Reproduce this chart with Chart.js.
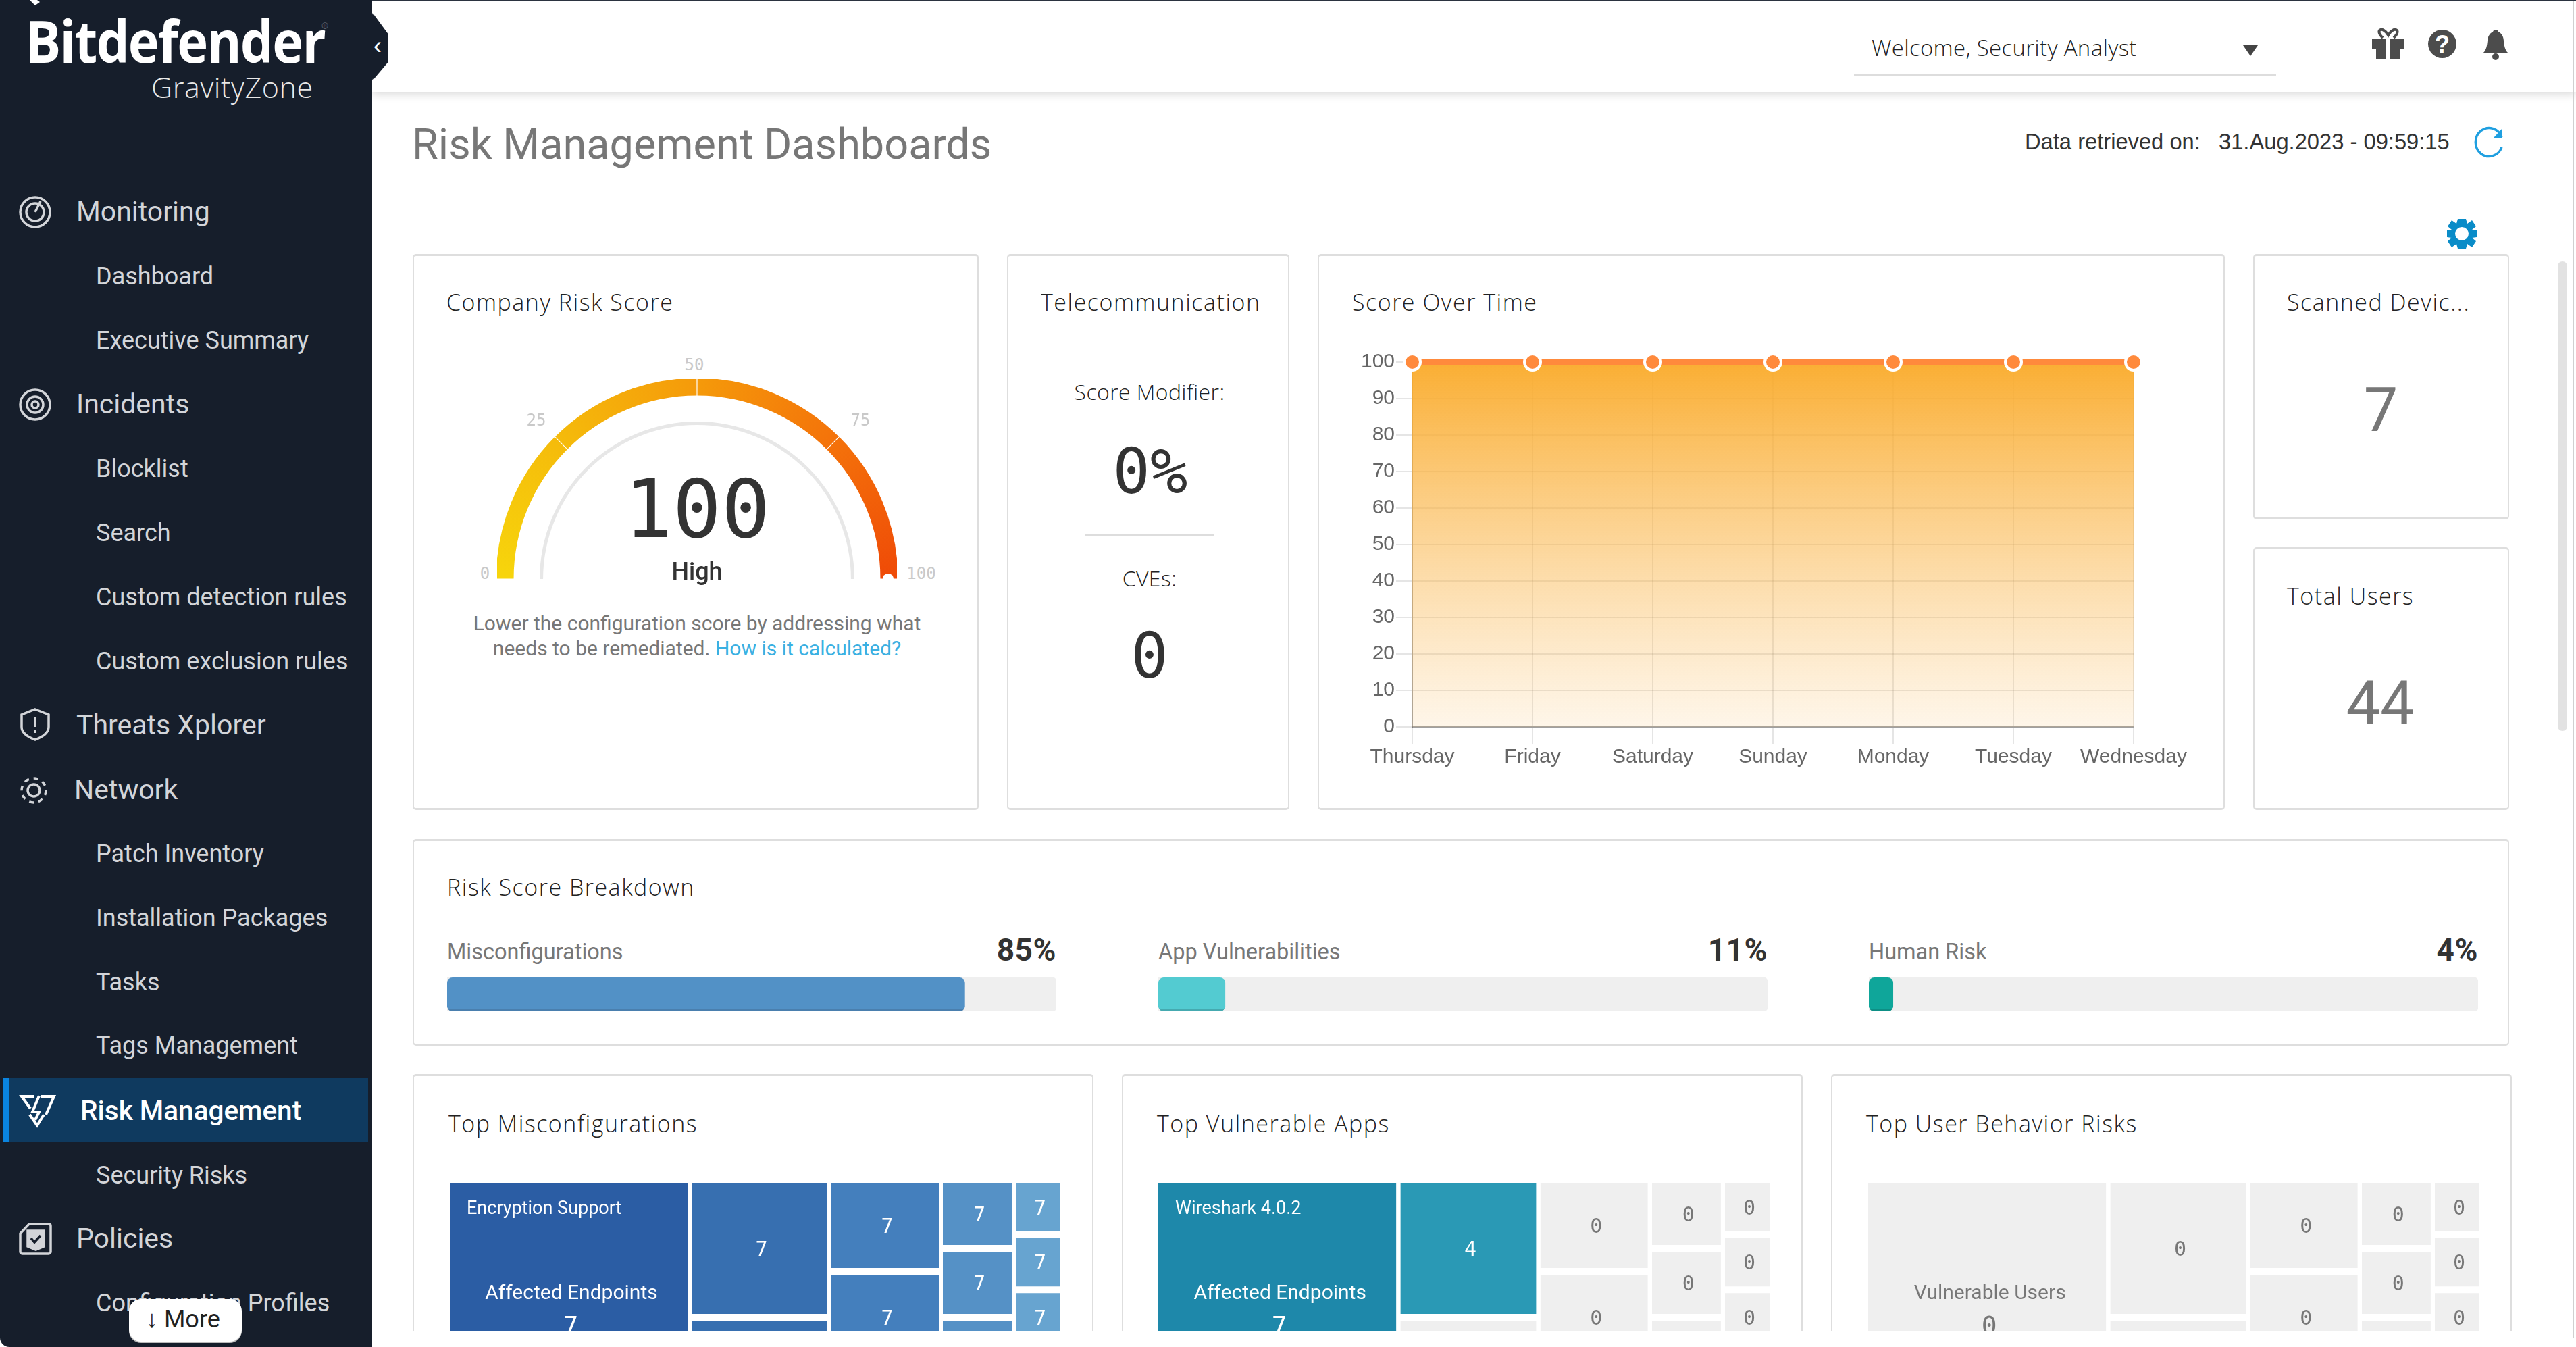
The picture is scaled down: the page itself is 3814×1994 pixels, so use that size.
<!DOCTYPE html>
<html><head><meta charset="utf-8">
<script src="https://cdn.jsdelivr.net/npm/chart.js@4"></script>
<style>
html,body{margin:0;padding:0;width:3814px;height:1994px;overflow:hidden;background:#fff}
#page{position:absolute;left:0;top:0;width:3814px;height:1994px;overflow:hidden;font-family:Roboto,sans-serif}
.t{position:absolute;white-space:nowrap;transform:translateY(calc(-50% + 2px));line-height:1.2}
.c{transform:translate(-50%,calc(-50% + 2px))}
.r{transform:translate(-100%,calc(-50% + 2px))}
.card{position:absolute;box-sizing:border-box;background:#fff;border:2px solid #dedede;border-top-width:3px;border-bottom-width:3px;border-radius:5px;overflow:hidden}
.title{font-family:"Open Sans",sans-serif;font-weight:300;font-size:34px;color:#222;letter-spacing:1.5px}
.mono{font-family:"DejaVu Sans Mono",monospace;color:#333}
canvas{position:absolute;display:block}
#side{position:absolute;left:0;top:0;width:551px;height:1994px;background:#161e2b;color:#d3d5d9;overflow:hidden;border-bottom-left-radius:14px}
#side .top{font-size:41px}
#side .sub{font-size:36px}
#main{position:absolute;left:551px;top:0;width:3263px;height:1971px;overflow:hidden}
#main>*{margin-left:-551px}
#bk{position:absolute;left:0;top:0;width:0;height:0}
#hdr{position:absolute;left:551px;top:0;width:3263px;height:136px;background:#fff;box-shadow:0 4px 12px rgba(0,0,0,.14)}
svg{position:absolute;overflow:visible}
</style></head><body>
<div id="page">
<div id="main">
  <div class="t" style="left:610px;top:212px;font-size:63px;color:#777;font-family:Roboto">Risk Management Dashboards</div>
  <div class="t" style="left:2998px;top:208px;font-size:32.7px;color:#333;font-family:'Liberation Sans'">Data retrieved on:</div>
  <div class="t" style="left:3285px;top:208px;font-size:32.7px;color:#333;font-family:'Liberation Sans'">31.Aug.2023 - 09:59:15</div>
  <svg style="left:0;top:0" width="1" height="1">
    <path d="M3704 203 A20 21 0 1 0 3704 218" fill="none" stroke="#1f9fe0" stroke-width="3.5"/>
    <path d="M3705 190 L3705 204 L3692 204 Z" fill="#1f9fe0"/>
    <g transform="translate(3645,346)" fill="#0a8cc8">
      <path fill-rule="evenodd" d="M-6-22H6L8-15 15-20 21-11 15-6 22-5V5L15 6 21 11 15 20 8 15 6 22H-6L-8 15-15 20-21 11-15 6-22 5V-5L-15-6-21-11-15-20-8-15Z M0-10A10 10 0 1 0 0 10A10 10 0 1 0 0-10Z"/>
    </g>
  </svg>

  <div class="card" style="left:611px;top:376px;width:838px;height:823px"></div>
  <div class="t title" style="left:661px;top:445px">Company Risk Score</div>
  <canvas id="gauge" width="592" height="296" style="left:736px;top:561px"></canvas>
  <div class="t c mono" style="left:1032px;top:752px;font-size:120px">100</div>
  <div class="t c" style="left:1032px;top:845px;font-size:36px;font-weight:500;color:#333">High</div>
  <div class="t c mono gt" style="left:718px;top:847px">0</div>
  <div class="t c mono gt" style="left:794px;top:620px">25</div>
  <div class="t c mono gt" style="left:1028px;top:538px">50</div>
  <div class="t c mono gt" style="left:1274px;top:620px">75</div>
  <div class="t c mono gt" style="left:1364px;top:847px">100</div>
  <div class="t c" style="left:1032px;top:921px;font-size:30px;color:#777">Lower the configuration score by addressing what</div>
  <div class="t c" style="left:1032px;top:958px;font-size:30px;color:#777">needs to be remediated. <span style="color:#3ab0e2">How is it calculated?</span></div>

  <div class="card" style="left:1491px;top:376px;width:418px;height:823px"></div>
  <div style="position:absolute;left:1541px;top:420px;width:322px;height:50px;overflow:hidden"><div class="t title" style="left:0;top:25px">Telecommunication</div></div>
  <div class="t c title" style="left:1702px;top:578px;font-size:32px;letter-spacing:.4px">Score Modifier:</div>
  <div class="t c mono" style="left:1703px;top:697px;font-size:92px">0%</div>
  <div style="position:absolute;left:1606px;top:791px;width:192px;height:2px;background:#ddd"></div>
  <div class="t c title" style="left:1702px;top:854px;font-size:32px;letter-spacing:.4px">CVEs:</div>
  <div class="t c mono" style="left:1702px;top:970px;font-size:92px">0</div>

  <div class="card" style="left:1951px;top:376px;width:1343px;height:823px"></div>
  <div class="t title" style="left:2002px;top:445px">Score Over Time</div>
  <canvas id="score" width="1290" height="650" style="left:1990px;top:500px"></canvas>

  <div class="card" style="left:3336px;top:376px;width:379px;height:393px"></div>
  <div class="t title" style="left:3386px;top:445px">Scanned Devic...</div>
  <div class="t c" style="left:3525px;top:606px;font-size:90px;color:#777">7</div>
  <div class="card" style="left:3336px;top:810px;width:379px;height:389px"></div>
  <div class="t title" style="left:3386px;top:880px">Total Users</div>
  <div class="t c" style="left:3524px;top:1040px;font-size:90px;color:#777">44</div>

  <div class="card" style="left:611px;top:1242px;width:3104px;height:306px"></div>
  <div class="t title" style="left:662px;top:1311px">Risk Score Breakdown</div>
  <div id="bk"></div>

  <div class="card" style="left:611px;top:1590px;width:1008px;height:600px"></div>
  <div class="t title" style="left:664px;top:1661px">Top Misconfigurations</div>
  <canvas id="tm1" width="904" height="398" style="left:666px;top:1751px"></canvas>
  <div class="card" style="left:1661px;top:1590px;width:1008px;height:600px"></div>
  <div class="t title" style="left:1713px;top:1661px">Top Vulnerable Apps</div>
  <canvas id="tm2" width="905" height="398" style="left:1715px;top:1751px"></canvas>
  <div class="card" style="left:2711px;top:1590px;width:1008px;height:600px"></div>
  <div class="t title" style="left:2763px;top:1661px">Top User Behavior Risks</div>
  <canvas id="tm3" width="905" height="398" style="left:2766px;top:1751px"></canvas>
</div>

<div id="hdr">
  <div class="t" style="left:2220px;top:69px;font-family:'Open Sans';font-weight:300;font-size:33px;letter-spacing:.3px;color:#222">Welcome, Security Analyst</div>
  <div style="position:absolute;left:2194px;top:109px;width:625px;height:3px;background:#ddd"></div>
  <svg style="left:-551px;top:0" width="1" height="1" fill="#4c4c4c">
    <path d="M3321 67 H3343 L3332 83 Z" fill="#444"/>
    <path d="M3512 58H3532V87H3518V72H3512Z M3538 58H3560V72H3554V87H3538Z"/>
    <path d="M3528 56C3515 44 3528 38 3536 52C3544 38 3557 44 3544 56" fill="none" stroke="#4c4c4c" stroke-width="4"/>
    <circle cx="3616" cy="65" r="21"/>
    <text x="3616" y="78" font-family="Liberation Sans" font-size="36" font-weight="700" fill="#fff" text-anchor="middle">?</text>
    <path d="M3676 79C3684 72 3682 60 3684 55C3686 49 3691 47 3691 47C3692 43 3698 43 3699 47C3699 47 3704 49 3706 55C3708 60 3706 72 3714 79Z"/>
    <circle cx="3695" cy="84" r="5"/>
  </svg>
</div>

<div style="position:absolute;left:3787px;top:136px;width:1px;height:1830px;background:#eee"></div>
<div style="position:absolute;left:3787px;top:387px;width:14px;height:695px;border-radius:7px;background:#e2e2e2"></div>
<div style="position:absolute;left:3809px;top:0;width:2px;height:1980px;background:#d0d0d0"></div>
<div style="position:absolute;left:0;top:0;width:3814px;height:2px;background:#2b3340"></div>

<div id="side">
  <svg style="left:0;top:0" width="1" height="1"><path d="M44 0L52 8 59 3 55 0Z" fill="#fff"/></svg>
  <div class="t" style="left:38px;top:60px;font-family:'Open Sans';font-weight:700;font-size:86px;letter-spacing:-2px;color:#fff;transform-origin:0 50%;transform:translateY(-50%) scaleX(.905)">Bitdefender</div>
  <div class="t" style="left:224px;top:127px;font-family:'Open Sans';font-weight:300;font-size:43px;letter-spacing:.6px;color:#e8e8e8">GravityZone</div>
  <div style="position:absolute;left:481px;top:38px;font-size:13px;line-height:13px;color:#5a616c;transform:translate(-50%,-50%)">®</div>
  <div id="nav"></div>
  <div style="position:absolute;left:5px;top:1596px;width:540px;height:95px;background:#0f3a5f;border-left:8px solid #0a84e0;box-sizing:border-box"></div>
  <div class="t" style="left:119px;top:1642px;font-size:40.5px;color:#fff;font-weight:500">Risk Management</div>
  <svg style="left:0;top:0" width="1" height="1" fill="none" stroke="#d3d5d9" stroke-width="3.5">
    <circle cx="52" cy="314" r="22"/><circle cx="52" cy="314" r="13"/><path d="M52 314L60 298" />
    <circle cx="52" cy="599" r="22"/><circle cx="52" cy="599" r="12"/><circle cx="52" cy="599" r="5"/>
    <path d="M52 1050L72 1058V1076C72 1086 60 1092 52 1095C44 1092 32 1086 32 1076V1058Z"/><path d="M52 1062V1076M52 1081V1085"/>
    <circle cx="50" cy="1170" r="9"/><circle cx="50" cy="1170" r="18" stroke-dasharray="7 7"/>
    <path d="M45 1641L32 1623H50M60 1623H80L68 1650M44 1650L55 1666 65 1650" stroke="#fff" stroke-width="4"/>
    <path d="M58 1622L48 1646H58L52 1658" stroke="#fff" stroke-width="4"/>
    <path d="M43 1812H73A3 3 0 0 1 75 1815V1853A3 3 0 0 1 72 1856H33A3 3 0 0 1 30 1853V1826Z"/>
    <path d="M41 1822H65V1845L53 1850 41 1845Z" fill="#d3d5d9"/><path d="M46 1833L51 1839 60 1829" stroke="#161e2b"/>
  </svg>
  <div style="position:absolute;left:191px;top:1923px;width:167px;height:63px;background:#fff;border-radius:18px;box-shadow:0 2px 0 #bbb"></div>
  <div class="t" style="left:216px;top:1952px;font-size:36px;color:#222">↓ More</div>
</div>
<div style="position:absolute;left:551px;top:18px;width:24px;height:102px;background:#161e2b;clip-path:polygon(0 0,100% 32%,100% 72%,0 100%);border-radius:4px"></div>
<div class="t c" style="left:559px;top:66px;font-size:36px;font-family:'Liberation Sans';color:#fff">‹</div>
</div>

<script>
// ---- data ----
const navTop = [["Monitoring",312],["Incidents",597],["Threats Xplorer",1072],["Network",1168],["Policies",1832]];
const navSub = [["Dashboard",408],["Executive Summary",503],["Blocklist",693],["Search",788],["Custom detection rules",883],["Custom exclusion rules",978],["Patch Inventory",1263],["Installation Packages",1358],["Tasks",1453],["Tags Management",1547],["Security Risks",1739],["Configuration Profiles",1928]];

const gaugeSegments = [25,25,25,25];
const gaugeScore = 100;

const scoreDays = ["Thursday","Friday","Saturday","Sunday","Monday","Tuesday","Wednesday"];
const scoreValues = [100,100,100,100,100,100,100];

const breakdownLabels = ["Misconfigurations","App Vulnerabilities","Human Risk"];
const breakdownValues = [85,11,4];

const treemapColumns = [1,2,3,4,5];
const treemapWeights = [352,100.5,100.5,53,53,53,25.5,25.5,25.5,25.5,13.2,13.2,13.2,13.2,13.2];
const misconfigValues = [7,7,7,7,7,7,7,7,7,7,7,7,7,7,7];
const vulnAppValues = [7,4,0,0,0,0,0,0,0,0,0,0,0,0,0];
const userRiskValues = [0,0,0,0,0,0,0,0,0,0,0,0,0,0,0];

// ---- styles & page text ----
document.querySelectorAll('.gt').forEach(e=>{e.style.fontSize='24px';e.style.color='#c9c9c9';});
const nav=document.getElementById('nav');
navTop.forEach(([s,y])=>{const d=document.createElement('div');d.className='t top';d.style.left=(s==='Network'?110:113)+'px';d.style.top=y+'px';d.textContent=s;nav.appendChild(d);});
navSub.forEach(([s,y])=>{const d=document.createElement('div');d.className='t sub';d.style.left='142px';d.style.top=y+'px';d.textContent=s;nav.appendChild(d);});

Chart.defaults.animation=false;
Chart.defaults.responsive=false;
Chart.defaults.devicePixelRatio=1;
Chart.defaults.plugins.legend.display=false;
Chart.defaults.plugins.tooltip.enabled=false;

// ---- gauge ----
const gaugeDot={id:'gaugeDot',afterDatasetsDraw(ch){
  const a=ch.getDatasetMeta(0).data[3];const {x,y,outerRadius,innerRadius}=a.getProps(['x','y','outerRadius','innerRadius'],true);
  const ctx=ch.ctx,ang=Math.PI+gaugeScore/100*Math.PI,r=(outerRadius+innerRadius)/2;
  ctx.save();ctx.fillStyle='#fff';ctx.beginPath();ctx.arc(x+r*Math.cos(ang),y+r*Math.sin(ang),8,0,7);ctx.fill();ctx.restore();
}};
const gctx=document.getElementById('gauge').getContext('2d');
const gg=gctx.createConicGradient(Math.PI,296,296);
gg.addColorStop(0,'#f7d50c');gg.addColorStop(.125,'#f5bb0b');gg.addColorStop(.25,'#f59a0a');gg.addColorStop(.375,'#f4720a');gg.addColorStop(.5,'#ef4a07');gg.addColorStop(.51,'#f7d50c');
new Chart(gctx,{type:'doughnut',
  data:{labels:gaugeSegments.map((_,i)=>String(i)),datasets:[
    {data:gaugeSegments,backgroundColor:gg,borderWidth:0,spacing:3,weight:26},
    {data:[1],backgroundColor:'rgba(0,0,0,0)',borderWidth:0,weight:37},
    {data:[1],backgroundColor:'#e7e7e7',borderWidth:0,weight:5}
  ]},
  options:{rotation:-90,circumference:180,radius:296,cutout:'77%',layout:{padding:0}},
  plugins:[gaugeDot]});

// ---- score over time ----
const sctx=document.getElementById('score').getContext('2d');
const sg=sctx.createLinearGradient(0,36,0,576);
sg.addColorStop(0,'rgba(250,170,40,.95)');sg.addColorStop(1,'rgba(250,190,100,.14)');
new Chart(sctx,{type:'line',
  data:{labels:scoreDays,datasets:[{data:scoreValues,borderColor:'#ff8a3c',borderWidth:8,tension:0,fill:true,backgroundColor:sg,
     pointRadius:12,pointBackgroundColor:'#ff8a3c',pointBorderColor:'#fff',pointBorderWidth:4,clip:false}]},
  options:{layout:{padding:{top:36,right:121}},
    scales:{
      x:{offset:false,afterFit(s){s.height=74;},
         grid:{color:'rgba(0,0,0,.1)',lineWidth:2,tickLength:25,drawTicks:true},
         border:{color:'rgba(0,0,0,.3)',width:3},
         ticks:{color:'#666',font:{family:'Liberation Sans',size:30},padding:2,maxRotation:0,autoSkip:false}},
      y:{min:0,max:100,afterFit(s){s.width=101;},
         grid:{color:'rgba(0,0,0,.1)',lineWidth:2,tickLength:24},
         border:{color:'rgba(0,0,0,.3)',width:2},
         ticks:{stepSize:10,color:'#666',font:{family:'Liberation Sans',size:30},padding:2}}
    }}});

// ---- breakdown bars ----
const bkX=[662,1715,2767],bkColor=['#5291c6','#53cbd1','#0fa69a'],bkEdge=['#4a7fae','#45aab0','#0d8f85'];
const bk=document.getElementById('bk');
breakdownLabels.forEach((lab,i)=>{
  const l=document.createElement('div');l.className='t';l.style.cssText=`left:${bkX[i]}px;top:1407px;font-size:32.5px;color:#777`;l.textContent=lab;bk.appendChild(l);
  const v=document.createElement('div');v.className='t r';v.style.cssText=`left:${bkX[i]+902}px;top:1405px;font-size:46px;font-weight:700;color:#333;letter-spacing:.5px`;v.textContent=breakdownValues[i]+'%';bk.appendChild(v);
  const c=document.createElement('canvas');c.width=902;c.height=50;c.style.left=bkX[i]+'px';c.style.top='1447px';bk.appendChild(c);
  new Chart(c,{type:'bar',
    data:{labels:[lab],datasets:[
      {data:[breakdownValues[i]],backgroundColor:bkColor[i],borderColor:bkEdge[i],borderWidth:{bottom:4},borderSkipped:false,borderRadius:8,order:0,barPercentage:1,categoryPercentage:1},
      {data:[100],backgroundColor:'#efefef',borderWidth:0,borderRadius:6,order:1,barPercentage:1,categoryPercentage:1}
    ]},
    options:{indexAxis:'y',layout:{padding:0},datasets:{bar:{grouped:false}},
      scales:{x:{display:false,min:0,max:100},y:{display:false}}}
  });
});

// ---- treemaps ----
function layoutCells(columns,weights,gapX,gapY){
  const cells=[];const total=weights.reduce((a,b)=>a+b,0);const usable=100-gapX*(columns.length-1);
  let k=0,x=0;
  columns.forEach((n,ci)=>{
    let sum=0;for(let i=0;i<n;i++)sum+=weights[k+i];
    const w=sum/total*usable,h=(100-gapY*(n-1))/n;
    for(let i=0;i<n;i++){cells.push({x0:x,x1:x+w,y0:i*(h+gapY),y1:i*(h+gapY)+h,col:ci,idx:k+i});}
    k+=n;x+=w+gapX;
  });
  return cells;
}
function treemap(id,values,palette,category,metric){
  const cnv=document.getElementById(id);
  const cells=layoutCells(treemapColumns,treemapWeights,6/9.04,10/3.98);
  const fillOf=c=>values[c.idx]>0?palette[c.col]:'#efefef';
  const labels={id:'cellLabels',afterDatasetsDraw(ch){
    const ctx=ch.ctx,sx=ch.scales.x,sy=ch.scales.y;ctx.save();ctx.textBaseline='middle';
    cells.forEach(c=>{
      const v=values[c.idx];const ink=v>0?'#fff':'#777';
      const l=sx.getPixelForValue(c.x0),r=sx.getPixelForValue(c.x1),t=sy.getPixelForValue(c.y0),b=sy.getPixelForValue(c.y1);
      ctx.fillStyle=ink;ctx.textAlign='center';
      if(c.idx===0){
        if(category){ctx.font='27px Roboto';ctx.textAlign='left';ctx.fillText(category,l+25,t+39);}
        ctx.font='30px Roboto';ctx.textAlign='center';ctx.fillText(metric,(l+r)/2+4,t+164);
        ctx.font='38px "DejaVu Sans Mono"';ctx.fillText(String(v),(l+r)/2+3,t+214);
      }else{
        ctx.font='30px "DejaVu Sans Mono"';ctx.fillText(String(v),(l+r)/2+3,(t+b)/2+3);
      }
    });ctx.restore();
  }};
  new Chart(cnv,{type:'line',
    data:{datasets:cells.map(c=>({
      data:[{x:c.x0,y:c.y0},{x:c.x1,y:c.y0}],
      fill:{value:c.y1},backgroundColor:fillOf(c),borderWidth:0,pointRadius:0,tension:0,showLine:true}))},
    options:{layout:{padding:0},scales:{
      x:{type:'linear',display:false,min:0,max:100},
      y:{type:'linear',display:false,min:0,max:100,reverse:true}}},
    plugins:[labels]});
}
treemap('tm1',misconfigValues,['#2b5da4','#376fb0','#447fbd','#5591c6','#67a4d0'],'Encryption Support','Affected Endpoints');
treemap('tm2',vulnAppValues,['#1e88aa','#2a99b5','#2a99b5','#2a99b5','#2a99b5'],'Wireshark 4.0.2','Affected Endpoints');
treemap('tm3',userRiskValues,['#efefef','#efefef','#efefef','#efefef','#efefef'],'','Vulnerable Users');
</script>
</body></html>
